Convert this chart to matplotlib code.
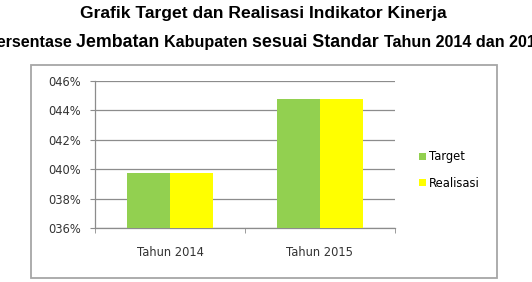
import matplotlib
matplotlib.use("Agg")
import matplotlib.pyplot as plt
from matplotlib.patches import Rectangle, Patch
from matplotlib.ticker import FuncFormatter, FixedLocator
import numpy as np

# data
categories = ["Tahun 2014", "Tahun 2015"]
target = [0.3974, 0.4478]
realisasi = [0.3974, 0.4478]
series_names = ["Target", "Realisasi"]
y_ticks = [0.36, 0.38, 0.40, 0.42, 0.44, 0.46]

title = "Grafik Target dan Realisasi Indikator Kinerja"
subtitle_parts = [
    ("Persentase ", 11.6),
    ("Jembatan ", 12.8),
    ("Kabupaten ", 11.6),
    ("sesuai Standar ", 12.8),
    ("Tahun 2014 dan 2015", 11.6),
]

GREEN = "#92D050"
YELLOW = "#FFFF00"
GRID = "#8C8C8C"

W, H = 532, 282
fig = plt.figure(figsize=(W / 100, H / 100), dpi=100)
fig.patch.set_facecolor("white")

# outer chart frame
fig.patches.append(Rectangle((31 / W, 1 - 278 / H), (497 - 31) / W, (278 - 65) / H,
                             transform=fig.transFigure, fill=False,
                             edgecolor="#A6A6A6", lw=1.3))

ax = fig.add_axes([95 / W, 1 - 228 / H, 300 / W, (228 - 81) / H])
x = np.arange(len(categories))
w = 0.287
ax.bar(x - w / 2, target, w, color=GREEN, zorder=3)
ax.bar(x + w / 2, realisasi, w, color=YELLOW, zorder=3)

ax.set_xlim(-0.5, len(categories) - 0.5)
ax.set_ylim(y_ticks[0], y_ticks[-1])
ax.set_yticks(y_ticks)
ax.yaxis.set_major_formatter(FuncFormatter(lambda v, p: f"{round(v * 100):03d}%"))
ax.yaxis.grid(True, color=GRID, lw=0.9, zorder=0)
ax.set_xticks(x)
ax.set_xticklabels(categories)
ax.xaxis.set_minor_locator(FixedLocator(np.arange(-0.5, len(categories), 1.0)))
ax.tick_params(axis="x", which="major", length=0, pad=13, labelsize=8.3, colors="#333333")
ax.tick_params(axis="x", which="minor", length=3.6, color=GRID)
ax.tick_params(axis="y", length=3.6, color=GRID, labelsize=8.3, labelcolor="#333333", pad=6.5)
for s in ["top", "right"]:
    ax.spines[s].set_visible(False)
for s in ["left", "bottom"]:
    ax.spines[s].set_color(GRID)
    ax.spines[s].set_linewidth(0.9)

handles = [Patch(facecolor=GREEN, label=series_names[0]),
           Patch(facecolor=YELLOW, label=series_names[1])]
fig.legend(handles=handles, loc="center left", bbox_to_anchor=(419 / W, 1 - 170 / H),
           frameon=False, fontsize=8.3, handlelength=0.6, handleheight=0.6,
           handletextpad=0.3, labelspacing=1.15, borderpad=0, borderaxespad=0)

fig.text(263 / W, 1 - 18 / H, title, ha="center", va="baseline",
         fontsize=12.6, fontweight="bold", family="Liberation Sans")

# subtitle with mixed sizes, laid out piece by piece;
# the line is wider than the figure, as in the original
renderer = fig.canvas.get_renderer()
texts = []
widths = []
for s, fs in subtitle_parts:
    t = fig.text(0, 1 - 47 / H, s, ha="left", va="baseline",
                 fontsize=fs, fontweight="bold", family="Liberation Sans")
    texts.append(t)
    widths.append(t.get_window_extent(renderer).width)
xpos = 76 - widths[0]
for t, wd in zip(texts, widths):
    t.set_x(xpos / W)
    xpos += wd

fig.savefig("out.png", dpi=100)
